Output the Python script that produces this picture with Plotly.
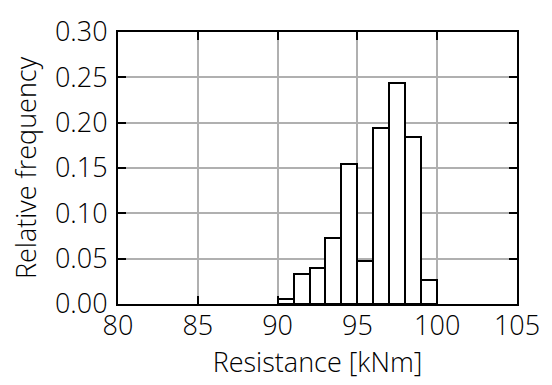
import plotly.graph_objects as go

bin_edges = [90, 91, 92, 93, 94, 95, 96, 97, 98, 99, 100]
rel_freq = [0.006, 0.033, 0.040, 0.073, 0.154, 0.047, 0.194, 0.244, 0.184, 0.026]
x_ticks = [80, 85, 90, 95, 100, 105]
y_ticks = [0.00, 0.05, 0.10, 0.15, 0.20, 0.25, 0.30]

centers = [(a + b) / 2 for a, b in zip(bin_edges[:-1], bin_edges[1:])]
widths = [b - a for a, b in zip(bin_edges[:-1], bin_edges[1:])]

TICKFONT = dict(family="Open Sans", size=27, color="black", weight=300)
TITLEFONT = dict(family="Open Sans", size=27, color="black", weight=300)

fig = go.Figure(go.Bar(
    x=centers, y=rel_freq, width=widths,
    marker=dict(color="white", line=dict(color="black", width=2)),
))

fig.update_layout(
    width=552, height=385,
    margin=dict(l=118, r=32, t=17, b=81),
    paper_bgcolor="white", plot_bgcolor="white",
    font=TICKFONT, showlegend=False, bargap=0,
)
fig.update_xaxes(
    range=[80, 105], tickvals=x_ticks, ticktext=[str(v) for v in x_ticks],
    showgrid=True, gridcolor="#b0b0b0", gridwidth=1.5,
    showline=True, linecolor="black", linewidth=2, mirror="ticks",
    ticks="inside", ticklen=8, tickwidth=1.5, tickcolor="black",
    zeroline=False, tickfont=TICKFONT, ticklabeloverflow="allow",
    ticklabelstandoff=-3,
    title=dict(text="Resistance [kNm]", font=TITLEFONT, standoff=6),
)
fig.update_yaxes(
    range=[0, 0.30], tickvals=y_ticks, ticktext=[f"{v:.2f}" for v in y_ticks],
    showgrid=True, gridcolor="#b0b0b0", gridwidth=1.5,
    showline=True, linecolor="black", linewidth=2, mirror="ticks",
    ticks="inside", ticklen=8, tickwidth=1.5, tickcolor="black",
    zeroline=False, tickfont=TICKFONT, ticklabeloverflow="allow",
    ticklabelstandoff=3,
    title=dict(text="Relative frequency", font=TITLEFONT, standoff=10),
)

fig.write_html("out.html")
